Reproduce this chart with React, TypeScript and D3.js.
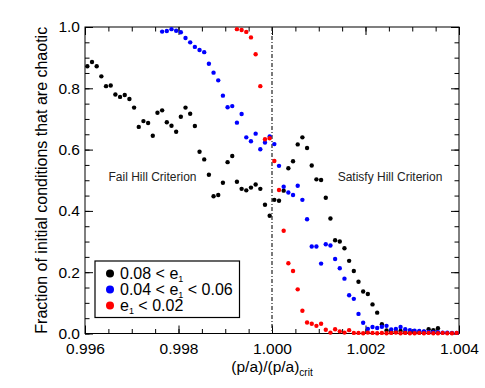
import React, { useRef, useEffect } from "react";
import * as d3 from "d3";

// bin centres of (p/a)/(p/a)crit
const pRatio = [
  0.99605, 0.99615, 0.99625, 0.99635, 0.99645, 0.99655, 0.99665, 0.99675, 0.99685, 0.99695,
  0.99705, 0.99715, 0.99725, 0.99735, 0.99745, 0.99755, 0.99765, 0.99775, 0.99785, 0.99795,
  0.99805, 0.99815, 0.99825, 0.99835, 0.99845, 0.99855, 0.99865, 0.99875, 0.99885, 0.99895,
  0.99905, 0.99915, 0.99925, 0.99935, 0.99945, 0.99955, 0.99965, 0.99975, 0.99985, 0.99995,
  1.00005, 1.00015, 1.00025, 1.00035, 1.00045, 1.00055, 1.00065, 1.00075, 1.00085, 1.00095,
  1.00105, 1.00115, 1.00125, 1.00135, 1.00145, 1.00155, 1.00165, 1.00175, 1.00185, 1.00195,
  1.00205, 1.00215, 1.00225, 1.00235, 1.00245, 1.00255, 1.00265, 1.00275, 1.00285, 1.00295,
  1.00305, 1.00315, 1.00325, 1.00335, 1.00345, 1.00355, 1.00365, 1.00375, 1.00385, 1.00395,
];

// 0.08 < e1, starts at bin 0
const highEcc = [
  0.872, 0.886, 0.872, 0.839, 0.807, 0.809, 0.78, 0.772, 0.778, 0.765,
  0.737, 0.674, 0.693, 0.687, 0.645, 0.72, 0.728, 0.689, 0.678, 0.658,
  0.707, 0.737, 0.717, 0.677, 0.593, 0.568, 0.518, 0.448, 0.452, 0.492,
  0.559, 0.579, 0.495, 0.472, 0.467, 0.476, 0.486, 0.472, 0.42, 0.384,
  0.436, 0.433, 0.466, 0.539, 0.562, 0.617, 0.64, 0.605, 0.548, 0.503,
  0.501, 0.443, 0.375, 0.304, 0.3, 0.278, 0.237, 0.204, 0.169, 0.137,
  0.129, 0.095, 0.068, 0.03, 0.01, 0.006, 0.005, 0.008, 0.004, 0.005,
  0.003, 0.004, 0.006, 0.014, 0.011, 0.017,
];

// 0.04 < e1 < 0.06, starts at bin 16
const midEcc = [
  0.985, 0.987, 0.993, 0.988, 0.983, 0.964, 0.95, 0.935, 0.925, 0.918,
  0.88, 0.851, 0.826, 0.776, 0.738, 0.742, 0.688, 0.716, 0.64, 0.627,
  0.652, 0.601, 0.623, 0.643, 0.618, 0.547, 0.479, 0.46, 0.452, 0.482,
  0.436, 0.373, 0.284, 0.284, 0.228, 0.291, 0.287, 0.243, 0.213, 0.179,
  0.125, 0.113, 0.064, 0.035, 0.015, 0.021, 0.018, 0.022, 0.025, 0.013,
  0.015, 0.021, 0.014, 0.011, 0.009, 0.008, 0.007, 0.005, 0.004, 0.004,
  0.003, 0.003, 0.002, 0.002,
];

// e1 < 0.02, starts at bin 32
const lowEcc = [
  0.993, 0.99, 0.984, 0.966, 0.911, 0.807, 0.634, 0.637, 0.563, 0.468,
  0.335, 0.229, 0.204, 0.144, 0.074, 0.036, 0.032, 0.025, 0.032, 0.012,
  0.003, 0.014, 0.007, 0.003, 0.011, 0.002, 0.002, 0.001, 0.003, 0.002,
  0.001, 0.002, 0.001, 0.002, 0.003, 0.001, 0.002, 0.001, 0.001, 0.002,
  0.001, 0.002, 0.001, 0.001, 0.002, 0.001, 0.001, 0.002,
];

const seriesInfo = [
  { name: "0.08 < e", after: "", values: highEcc, start: 0, color: "#000000" },
  { name: "0.04 < e", after: " < 0.06", values: midEcc, start: 16, color: "#0000ff" },
  { name: "e", after: " < 0.02", values: lowEcc, start: 32, color: "#ff0000" },
];

const xTicks = [0.996, 0.998, 1.0, 1.002, 1.004];
const yTicks = [0, 0.2, 0.4, 0.6, 0.8, 1.0];

const FONT = "'Liberation Sans', Helvetica, Arial, sans-serif";

const App = () => {
  const svgRef = useRef<SVGSVGElement>(null);

  useEffect(() => {
    const width = 485;
    const height = 388;
    const margin = { top: 27, right: 26, bottom: 54.5, left: 85 };
    const svg = d3.select(svgRef.current);
    svg.selectAll("*").remove();

    const x = d3.scaleLinear().domain([0.996, 1.004]).range([margin.left, width - margin.right]);
    const y = d3.scaleLinear().domain([0, 1]).range([height - margin.bottom, margin.top]);
    const x0 = margin.left, x1 = width - margin.right;
    const y0 = height - margin.bottom, y1 = margin.top;

    const xMinor = d3.range(0, 17).map(i => 0.996 + i * 0.0005);
    const yMinor = d3.range(0, 21).map(i => i * 0.05);

    const styleAxis = (g) => {
      g.select(".domain").remove();
      g.selectAll("line").attr("stroke", "#000").attr("stroke-width", 1);
      g.selectAll("text").attr("font-family", FONT).attr("font-size", 15.5).attr("fill", "#000");
    };

    // bottom
    svg.append("g").attr("transform", `translate(0,${y0})`)
      .call(d3.axisBottom(x).tickValues(xTicks).tickSize(-8).tickPadding(9.5).tickFormat(d3.format(".3f")))
      .call(styleAxis);
    svg.append("g").attr("transform", `translate(0,${y0})`)
      .call(d3.axisBottom(x).tickValues(xMinor).tickSize(-4.5).tickFormat(() => ""))
      .call(styleAxis);
    // top
    svg.append("g").attr("transform", `translate(0,${y1})`)
      .call(d3.axisTop(x).tickValues(xTicks).tickSize(-8).tickFormat(() => ""))
      .call(styleAxis);
    svg.append("g").attr("transform", `translate(0,${y1})`)
      .call(d3.axisTop(x).tickValues(xMinor).tickSize(-4.5).tickFormat(() => ""))
      .call(styleAxis);
    // left
    svg.append("g").attr("transform", `translate(${x0},0)`)
      .call(d3.axisLeft(y).tickValues(yTicks).tickSize(-8).tickPadding(5).tickFormat(d3.format(".1f")))
      .call(styleAxis);
    svg.append("g").attr("transform", `translate(${x0},0)`)
      .call(d3.axisLeft(y).tickValues(yMinor).tickSize(-4.5).tickFormat(() => ""))
      .call(styleAxis);
    // right
    svg.append("g").attr("transform", `translate(${x1},0)`)
      .call(d3.axisRight(y).tickValues(yTicks).tickSize(-8).tickFormat(() => ""))
      .call(styleAxis);
    svg.append("g").attr("transform", `translate(${x1},0)`)
      .call(d3.axisRight(y).tickValues(yMinor).tickSize(-4.5).tickFormat(() => ""))
      .call(styleAxis);

    svg.append("rect")
      .attr("x", x0).attr("y", y1).attr("width", x1 - x0).attr("height", y0 - y1)
      .attr("fill", "none").attr("stroke", "#000").attr("stroke-width", 1);

    // Hill criterion line
    svg.append("line")
      .attr("x1", x(1.0)).attr("x2", x(1.0)).attr("y1", y1).attr("y2", y0)
      .attr("stroke", "#222").attr("stroke-width", 1.2).attr("stroke-dasharray", "4,2,1,2");

    // points
    seriesInfo.forEach(s => {
      svg.append("g").selectAll("circle")
        .data(s.values)
        .join("circle")
        .attr("cx", (d, i) => x(pRatio[s.start + i]))
        .attr("cy", d => y(d))
        .attr("r", 2.2)
        .attr("fill", s.color);
    });

    // region labels
    svg.append("text").attr("x", 152.5).attr("y", 181)
      .attr("text-anchor", "middle").attr("font-family", FONT).attr("font-size", 12).attr("fill", "#222")
      .text("Fail Hill Criterion");
    svg.append("text").attr("x", 390).attr("y", 181)
      .attr("text-anchor", "middle").attr("font-family", FONT).attr("font-size", 12).attr("fill", "#222")
      .text("Satisfy Hill Criterion");

    // axis titles
    const xl = svg.append("text").attr("x", x(1.0)).attr("y", 372)
      .attr("text-anchor", "middle").attr("font-family", FONT).attr("font-size", 15.5);
    xl.append("tspan").text("(p/a)/(p/a)");
    xl.append("tspan").attr("font-size", 10).attr("dy", 4).text("crit");

    svg.append("text")
      .attr("transform", `translate(47,${(y0 + y1) / 2}) rotate(-90)`)
      .attr("text-anchor", "middle").attr("font-family", FONT).attr("font-size", 16)
      .text("Fraction of initial conditions that are chaotic");

    // legend
    const lg = svg.append("g").attr("transform", "translate(95,261)");
    lg.append("rect").attr("width", 144.5).attr("height", 56.5)
      .attr("fill", "#fff").attr("stroke", "#000").attr("stroke-width", 1.2);
    seriesInfo.forEach((s, i) => {
      const row = lg.append("g").attr("transform", `translate(0,${12.5 + i * 16})`);
      row.append("circle").attr("cx", 15).attr("cy", 0).attr("r", 4).attr("fill", s.color);
      const t = row.append("text").attr("x", 25).attr("y", 5.7)
        .attr("font-family", FONT).attr("font-size", 16);
      t.append("tspan").text(s.name);
      t.append("tspan").attr("font-size", 9).attr("dy", 3).text("1");
      if (s.after) t.append("tspan").attr("dy", -3).text(s.after);
    });
  }, []);

  return (
    <svg
      ref={svgRef}
      width={485}
      height={388}
      style={{ position: "absolute", left: 0, top: 0, background: "#fff" }}
    />
  );
};

export default App;
